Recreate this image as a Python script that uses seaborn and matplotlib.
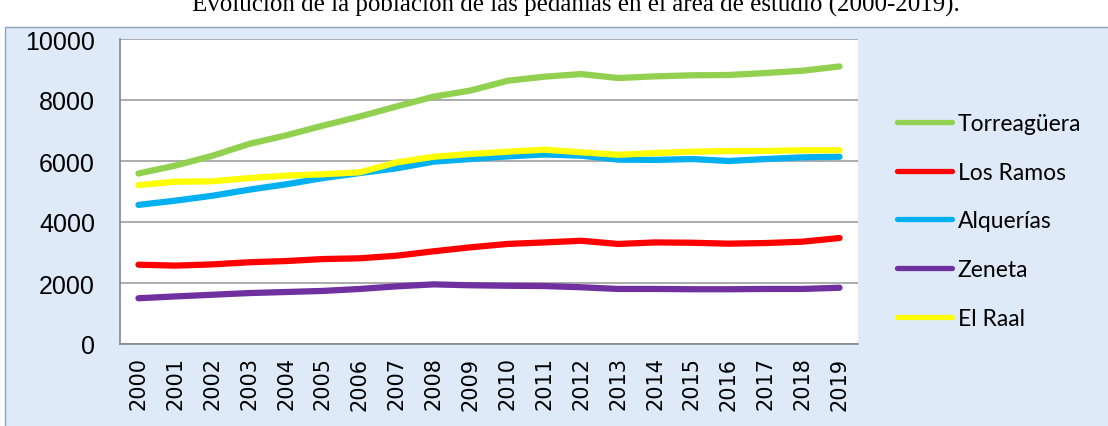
import matplotlib
matplotlib.use("Agg")
import matplotlib.pyplot as plt
from matplotlib.patches import Rectangle
import seaborn as sns
import pandas as pd
import numpy as np

# ── Data ──────────────────────────────────────────────────────────
years = [str(y) for y in range(2000, 2020)]
torreaguera = [5590, 5850, 6170, 6560, 6840, 7160, 7460, 7790, 8110, 8310,
               8630, 8765, 8850, 8720, 8775, 8810, 8820, 8885, 8960, 9100]
los_ramos = [2600, 2570, 2610, 2680, 2720, 2785, 2810, 2895, 3040, 3170,
             3280, 3330, 3385, 3280, 3330, 3320, 3290, 3310, 3355, 3475]
alquerias = [4560, 4700, 4860, 5060, 5235, 5440, 5605, 5760, 5980, 6065,
             6150, 6215, 6175, 6045, 6035, 6065, 6000, 6065, 6120, 6140]
zeneta = [1500, 1560, 1615, 1670, 1705, 1740, 1805, 1890, 1955, 1925,
          1910, 1900, 1860, 1805, 1805, 1795, 1795, 1805, 1805, 1845]
el_raal = [5210, 5320, 5335, 5440, 5520, 5565, 5630, 5955, 6140, 6230,
           6305, 6370, 6285, 6205, 6260, 6305, 6325, 6330, 6350, 6350]

series = ["Torreagüera", "Los Ramos", "Alquerías", "Zeneta", "El Raal"]
colors = ["#92D050", "#FF0000", "#00B0F0", "#7030A0", "#FFFF00"]
values = [torreaguera, los_ramos, alquerias, zeneta, el_raal]

df = pd.concat(
    [pd.DataFrame({"pos": np.arange(len(years)), "pop": v, "pedania": name})
     for name, v in zip(series, values)],
    ignore_index=True,
)

# ── Style ─────────────────────────────────────────────────────────
sns.set_style("white")
plt.rcParams["font.family"] = ["DejaVu Sans"]
plt.rcParams["text.color"] = "black"
plt.rcParams["xtick.color"] = "black"
plt.rcParams["ytick.color"] = "black"

fig = plt.figure(figsize=(11.08, 4.27), dpi=100)
fig.patch.set_facecolor("white")

# light blue chart panel with thin border
fig.patches.append(Rectangle((5 / 1108, -0.01), 1.0, 1 - 28 / 427 + 0.01,
                             transform=fig.transFigure, facecolor="#DEEAF8",
                             edgecolor="#8EA3BC", linewidth=1, zorder=-10))

ax = fig.add_axes([120 / 1108, 1 - 345 / 427, 738 / 1108, 305 / 427])
ax.set_zorder(1)
ax.set_facecolor("white")

sns.lineplot(data=df, x="pos", y="pop", hue="pedania", hue_order=series,
             palette=colors, linewidth=4.5, solid_capstyle="round", ax=ax)

ax.set_xlim(-0.5, len(years) - 0.5)
ax.set_ylim(0, 10000)
ax.set_yticks(np.arange(0, 10001, 2000))
ax.set_xticks(np.arange(len(years)))
ax.set_xticklabels(years, rotation=90, fontsize=15, family="DejaVu Sans")
ax.set_xticks(np.arange(-0.5, len(years)), minor=True)
ax.tick_params(axis="x", which="major", length=0, pad=9)
ax.tick_params(axis="x", which="minor", length=6, width=1.2, color="#868686")
ax.tick_params(axis="y", length=6, width=1.2, color="#868686", pad=12)
for lab in ax.get_yticklabels():
    lab.set_family(["Liberation Sans Narrow", "Liberation Sans"])
    lab.set_fontsize(18)
ax.set_xlabel("")
ax.set_ylabel("")

ax.yaxis.grid(True, color="#A6A6A6", linewidth=1.3)
ax.set_axisbelow(True)
for side in ["top", "right"]:
    ax.spines[side].set_visible(False)
for side in ["left", "bottom"]:
    ax.spines[side].set_color("#868686")
    ax.spines[side].set_linewidth(1.2)

handles, labels = ax.get_legend_handles_labels()
ax.get_legend().remove()
for h in handles:
    h.set_linewidth(3.8)
    h.set_solid_capstyle("round")
leg = fig.legend(handles, labels, loc="center left",
                 bbox_to_anchor=(897 / 1108, 1 - 222 / 427), frameon=False,
                 prop={"family": "Lato", "size": 16.5}, handlelength=2.4,
                 handletextpad=0.25, labelspacing=1.22, borderpad=0,
                 borderaxespad=0)
for t in leg.get_texts():
    t.set_color("black")

fig.text(576 / 1108, 1 - 12 / 427,
         "Evolución de la población de las pedanías en el área de estudio (2000-2019).",
         ha="center", va="baseline", fontsize=18, family="Liberation Serif")

fig.savefig("out.png", dpi=100)
